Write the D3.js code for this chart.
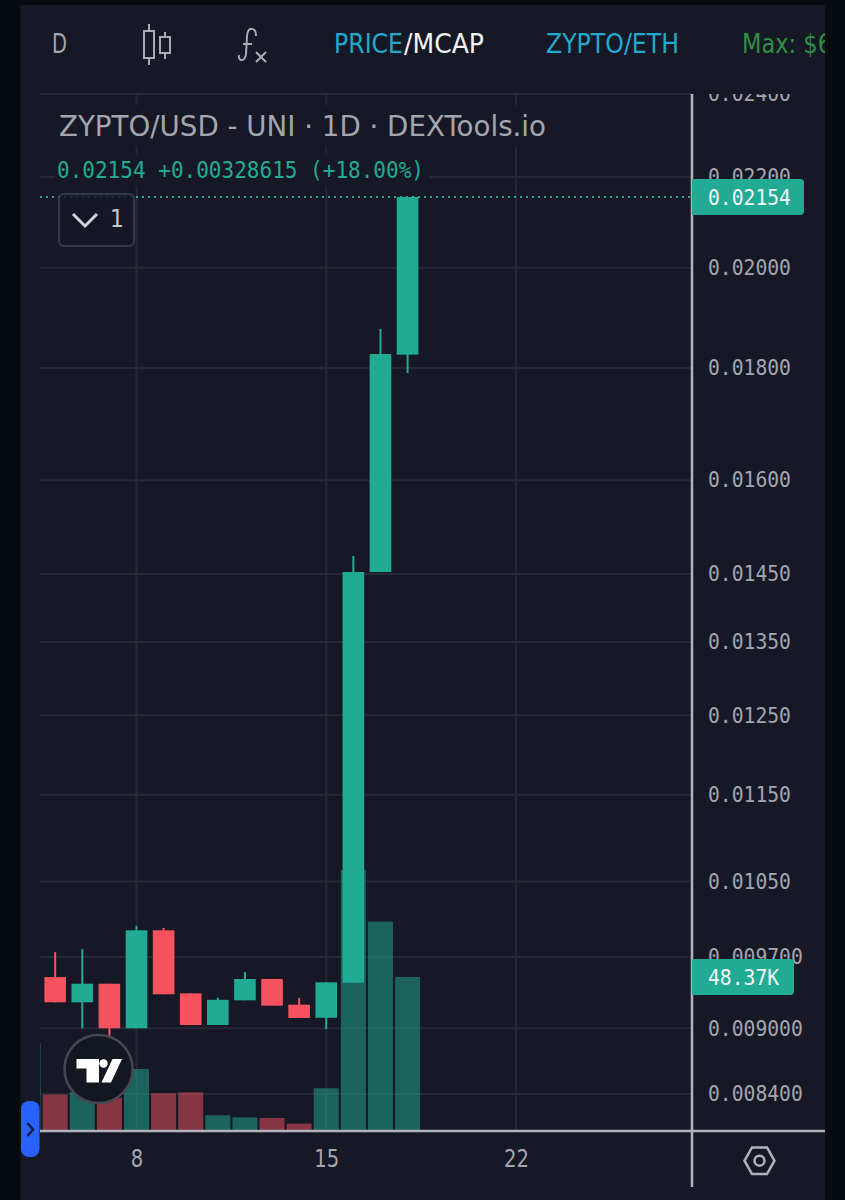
<!DOCTYPE html>
<html>
<head>
<meta charset="utf-8">
<style>
  html, body { margin: 0; padding: 0; background: #060b10; }
  svg { display: block; }
</style>
</head>
<body>
<div class="canvas"></div>
<script src="https://cdn.jsdelivr.net/npm/d3@7"></script>
<script>
const days = [5, 6, 7, 8, 9, 10, 11, 12, 13, 14, 15, 16, 17, 18]
const opens = [0.009497, 0.009249, 0.009431, 0.00900, 0.009975, 0.009336, 0.009031, 0.009268, 0.009478, 0.009226, 0.009100, 0.009441, 0.01453, 0.018254]
const closes = [0.009249, 0.009431, 0.00900, 0.009975, 0.009327, 0.009031, 0.009273, 0.009478, 0.009216, 0.009098, 0.009445, 0.01453, 0.018266, 0.02154]
const highs = [0.009749, 0.009780, 0.009431, 0.010020, 0.009999, 0.009336, 0.009293, 0.009547, 0.009478, 0.009293, 0.009445, 0.014777, 0.018754, 0.02154]
const lows = [0.009249, 0.00900, 0.008926, 0.00900, 0.009327, 0.009031, 0.009031, 0.009268, 0.009216, 0.009098, 0.008992, 0.009441, 0.01453, 0.017906]

const volumeDays = [4, 5, 6, 7, 8, 9, 10, 11, 12, 13, 14, 15, 16, 17, 18]
const volumes = [27.5, 11.2, 12.0, 10.1, 19.3, 11.6, 11.9, 4.65, 4.0, 3.8, 2.0, 13.2, 82.2, 65.9, 48.37]
const volumeUp = [true, false, true, false, true, false, false, true, true, false, false, true, true, true, true]

const priceTicks = [0.024, 0.022, 0.02, 0.018, 0.016, 0.0145, 0.0135, 0.0125, 0.0115, 0.0105, 0.0097, 0.009, 0.0084]
const priceLabels = ['0.02400', '0.02200', '0.02000', '0.01800', '0.01600', '0.01450', '0.01350', '0.01250', '0.01150', '0.01050', '0.009700', '0.009000', '0.008400']
const dayTicks = [8, 15, 22]

const lastPrice = 0.02154
const lastVolume = 48.37

const green = '#22ab94'
const red = '#f7525f'
const gridColor = '#262833'
const axisColor = '#b2b2ba'
const panel = '#161826'
const labelColor = '#a3a6af'
const sans = '"DejaVu Sans", sans-serif'
const mono = '"DejaVu Sans Mono", monospace'

const svg = d3.select('.canvas').append('svg').attr('width', 845).attr('height', 1200)

const plot = {left: 40, right: 692, top: 94, bottom: 1130}

svg.append('rect').attr('x', 20.5).attr('y', 5).attr('width', 804.5).attr('height', 1195).attr('fill', panel)

const defs = svg.append('defs')
defs.append('clipPath').attr('id', 'plot-clip').append('rect')
    .attr('x', plot.left).attr('y', plot.top).attr('width', plot.right - plot.left).attr('height', plot.bottom - plot.top)
defs.append('clipPath').attr('id', 'axis-clip').append('rect')
    .attr('x', plot.right).attr('y', plot.top).attr('width', 133).attr('height', plot.bottom - plot.top)
defs.append('clipPath').attr('id', 'panel-clip').append('rect')
    .attr('x', 20).attr('y', 5).attr('width', 805).attr('height', 1195)

const x = d3.scaleLinear().domain([8, 22]).range([136.5, 516])
const y = d3.scaleLog().domain([0.0084, 0.024]).range([1094, 94])
const yVol = d3.scaleLinear().domain([0, 82.2]).range([plot.bottom, 870])

// Grid
const grid = svg.append('g')
grid.selectAll('.h').data(priceTicks).enter().append('line')
    .attr('x1', plot.left).attr('x2', plot.right)
    .attr('y1', d => y(d)).attr('y2', d => y(d))
    .attr('stroke', gridColor).attr('stroke-width', 2)
grid.selectAll('.v').data(dayTicks).enter().append('line')
    .attr('x1', d => x(d)).attr('x2', d => x(d))
    .attr('y1', plot.top).attr('y2', plot.bottom)
    .attr('stroke', gridColor).attr('stroke-width', 2)

const marks = svg.append('g').attr('clip-path', 'url(#plot-clip)')

// Volume sits behind the candles
marks.selectAll('.vol').data(volumes).enter().append('rect')
    .attr('x', (d, i) => x(volumeDays[i]) - 12.5)
    .attr('width', 25)
    .attr('y', d => yVol(d))
    .attr('height', d => plot.bottom - yVol(d))
    .attr('fill', (d, i) => volumeUp[i] ? green : red)
    .attr('opacity', 0.5)

const candleColor = i => closes[i] >= opens[i] ? green : red

marks.selectAll('.wick').data(days).enter().append('line')
    .attr('x1', d => x(d)).attr('x2', d => x(d))
    .attr('y1', (d, i) => y(highs[i]))
    .attr('y2', (d, i) => y(lows[i]))
    .attr('stroke', (d, i) => candleColor(i))
    .attr('stroke-width', 2)

marks.selectAll('.body').data(days).enter().append('rect')
    .attr('x', d => x(d) - 10.8)
    .attr('width', 21.6)
    .attr('y', (d, i) => y(Math.max(opens[i], closes[i])))
    .attr('height', (d, i) => y(Math.min(opens[i], closes[i])) - y(Math.max(opens[i], closes[i])))
    .attr('fill', (d, i) => candleColor(i))

// Last price line
svg.append('line')
    .attr('x1', plot.left).attr('x2', plot.right)
    .attr('y1', y(lastPrice)).attr('y2', y(lastPrice))
    .attr('stroke', green).attr('stroke-width', 2).attr('stroke-dasharray', '2 4')

// Legend
svg.append('rect').attr('x', 56).attr('y', 105).attr('width', 494).attr('height', 42).attr('fill', panel)
svg.append('rect').attr('x', 55).attr('y', 155).attr('width', 374).attr('height', 32).attr('fill', panel)
svg.append('text').attr('x', 59).attr('y', 136)
    .attr('font-family', sans).attr('font-size', 29).attr('fill', labelColor)
    .attr('textLength', 487).attr('lengthAdjust', 'spacingAndGlyphs')
    .text('ZYPTO/USD - UNI · 1D · DEXTools.io')
svg.append('text').attr('x', 57).attr('y', 178)
    .attr('font-family', mono).attr('font-size', 23).attr('fill', green)
    .attr('textLength', 367).attr('lengthAdjust', 'spacingAndGlyphs')
    .text('0.02154 +0.00328615 (+18.00%)')

// Collapse button
svg.append('rect').attr('x', 59).attr('y', 194).attr('width', 75).attr('height', 52).attr('rx', 5)
    .attr('fill', panel).attr('fill-opacity', 0.85).attr('stroke', '#363a45').attr('stroke-width', 2)
svg.append('path').attr('d', 'M73,214 L85,226 L97,214').attr('fill', 'none').attr('stroke', '#d1d4dc').attr('stroke-width', 3)
svg.append('text').attr('x', 110).attr('y', 227)
    .attr('font-family', sans).attr('font-size', 25).attr('fill', '#c4c6ce')
    .attr('textLength', 14).attr('lengthAdjust', 'spacingAndGlyphs').text('1')

// Axes
const yAxis = d3.axisRight(y).tickValues(priceTicks)
    .tickFormat((d, i) => priceLabels[i]).tickSize(0).tickPadding(16)
const yAxisGroup = svg.append('g')
    .attr('clip-path', 'url(#axis-clip)')
    .append('g').attr('transform', `translate(${plot.right}, 0)`)
    .call(yAxis)
yAxisGroup.select('.domain').remove()
yAxisGroup.selectAll('text').attr('font-family', mono).attr('font-size', 21).attr('fill', labelColor)
    .attr('textLength', (d, i) => priceLabels[i].length * 11.85).attr('lengthAdjust', 'spacingAndGlyphs')

const xAxis = d3.axisBottom(x).tickValues(dayTicks).tickFormat(d => d).tickSize(0).tickPadding(20)
const xAxisGroup = svg.append('g').attr('transform', `translate(0, ${plot.bottom})`).call(xAxis)
xAxisGroup.select('.domain').remove()
xAxisGroup.selectAll('text').attr('font-family', sans).attr('font-size', 24).attr('fill', labelColor)
    .attr('textLength', d => String(d).length * 12.5).attr('lengthAdjust', 'spacingAndGlyphs')

svg.append('line').attr('x1', plot.right).attr('x2', plot.right).attr('y1', plot.top).attr('y2', 1187)
    .attr('stroke', axisColor).attr('stroke-width', 2.5)
svg.append('line').attr('x1', plot.left).attr('x2', 825).attr('y1', 1131).attr('y2', 1131)
    .attr('stroke', axisColor).attr('stroke-width', 2.5)

// Axis value labels
const tag = (yMid, width, text) => {
    svg.append('path')
        .attr('d', `M${plot.right},${yMid - 18} H${plot.right + width - 4} q4,0 4,4 V${yMid + 14} q0,4 -4,4 H${plot.right} Z`)
        .attr('fill', green)
    svg.append('text').attr('x', plot.right + 16).attr('y', yMid + 8)
        .attr('font-family', mono).attr('font-size', 21).attr('fill', '#f4f5f7')
        .attr('textLength', text.length * 11.85).attr('lengthAdjust', 'spacingAndGlyphs').text(text)
}
tag(y(lastPrice), 112, lastPrice.toFixed(5))
tag(yVol(lastVolume), 102, lastVolume + 'K')

// Header
const header = svg.append('g').attr('clip-path', 'url(#panel-clip)')
const headerText = (xPos, width, color, text) => header.append('text')
    .attr('x', xPos).attr('y', 53)
    .attr('font-family', sans).attr('font-size', 26).attr('fill', color)
    .attr('textLength', width).attr('lengthAdjust', 'spacingAndGlyphs').text(text)
headerText(52, 15, '#a3a6af', 'D')
headerText(334, 69, '#21a9cf', 'PRICE')
headerText(404, 80, '#f2f3f5', '/MCAP')
headerText(546, 133, '#21a9cf', 'ZYPTO/ETH')
headerText(742, 90, '#2f8f40', 'Max: $6')

// Toolbar icons
const iconStroke = {fill: 'none', stroke: '#a9acb5', 'stroke-width': 2}
const icon = (d, attrs = iconStroke) => {
    const p = header.append('path').attr('d', d)
    Object.entries(attrs).forEach(([k, v]) => p.attr(k, v))
    return p
}
icon('M149,24 V31 M144,31 H154 V58 H144 Z M149,58 V65')
icon('M165,32 V37 M160,37 H170 V53 H160 Z M165,53 V59')
icon('M256,36 C256,27 248,26 247,36 L246,54 C245,62 238,62 239,55 M243,44 H252')
icon('M256,52 L266,62 M266,52 L256,62')

// Settings hexagon
icon('M744.5,1160.7 L752,1147.5 H767 L774.5,1160.7 L767,1174 H752 Z', {fill: 'none', stroke: axisColor, 'stroke-width': 2.5})
header.append('circle').attr('cx', 759.5).attr('cy', 1160.7).attr('r', 5).attr('fill', 'none').attr('stroke', axisColor).attr('stroke-width', 2.5)

// Scale pill
svg.append('rect').attr('x', 21).attr('y', 1101).attr('width', 18.5).attr('height', 56).attr('rx', 8).attr('fill', '#2962ff')
svg.append('path').attr('d', 'M27.5,1123 L33,1129.5 L27.5,1136').attr('fill', 'none').attr('stroke', '#0e1c44').attr('stroke-width', 2.5)

// TradingView badge
svg.append('circle').attr('cx', 98.5).attr('cy', 1069).attr('r', 34).attr('fill', '#131722').attr('stroke', '#45484f').attr('stroke-width', 2.5)
svg.append('path').attr('d', 'M76.5,1059 H99 V1082.5 H86.5 V1068.5 H76.5 Z').attr('fill', '#fff')
svg.append('circle').attr('cx', 103.5).attr('cy', 1063.5).attr('r', 4.2).attr('fill', '#fff')
svg.append('path').attr('d', 'M112.5,1059 H122 L111,1082.5 H101.5 Z').attr('fill', '#fff')
</script>
</body>
</html>
